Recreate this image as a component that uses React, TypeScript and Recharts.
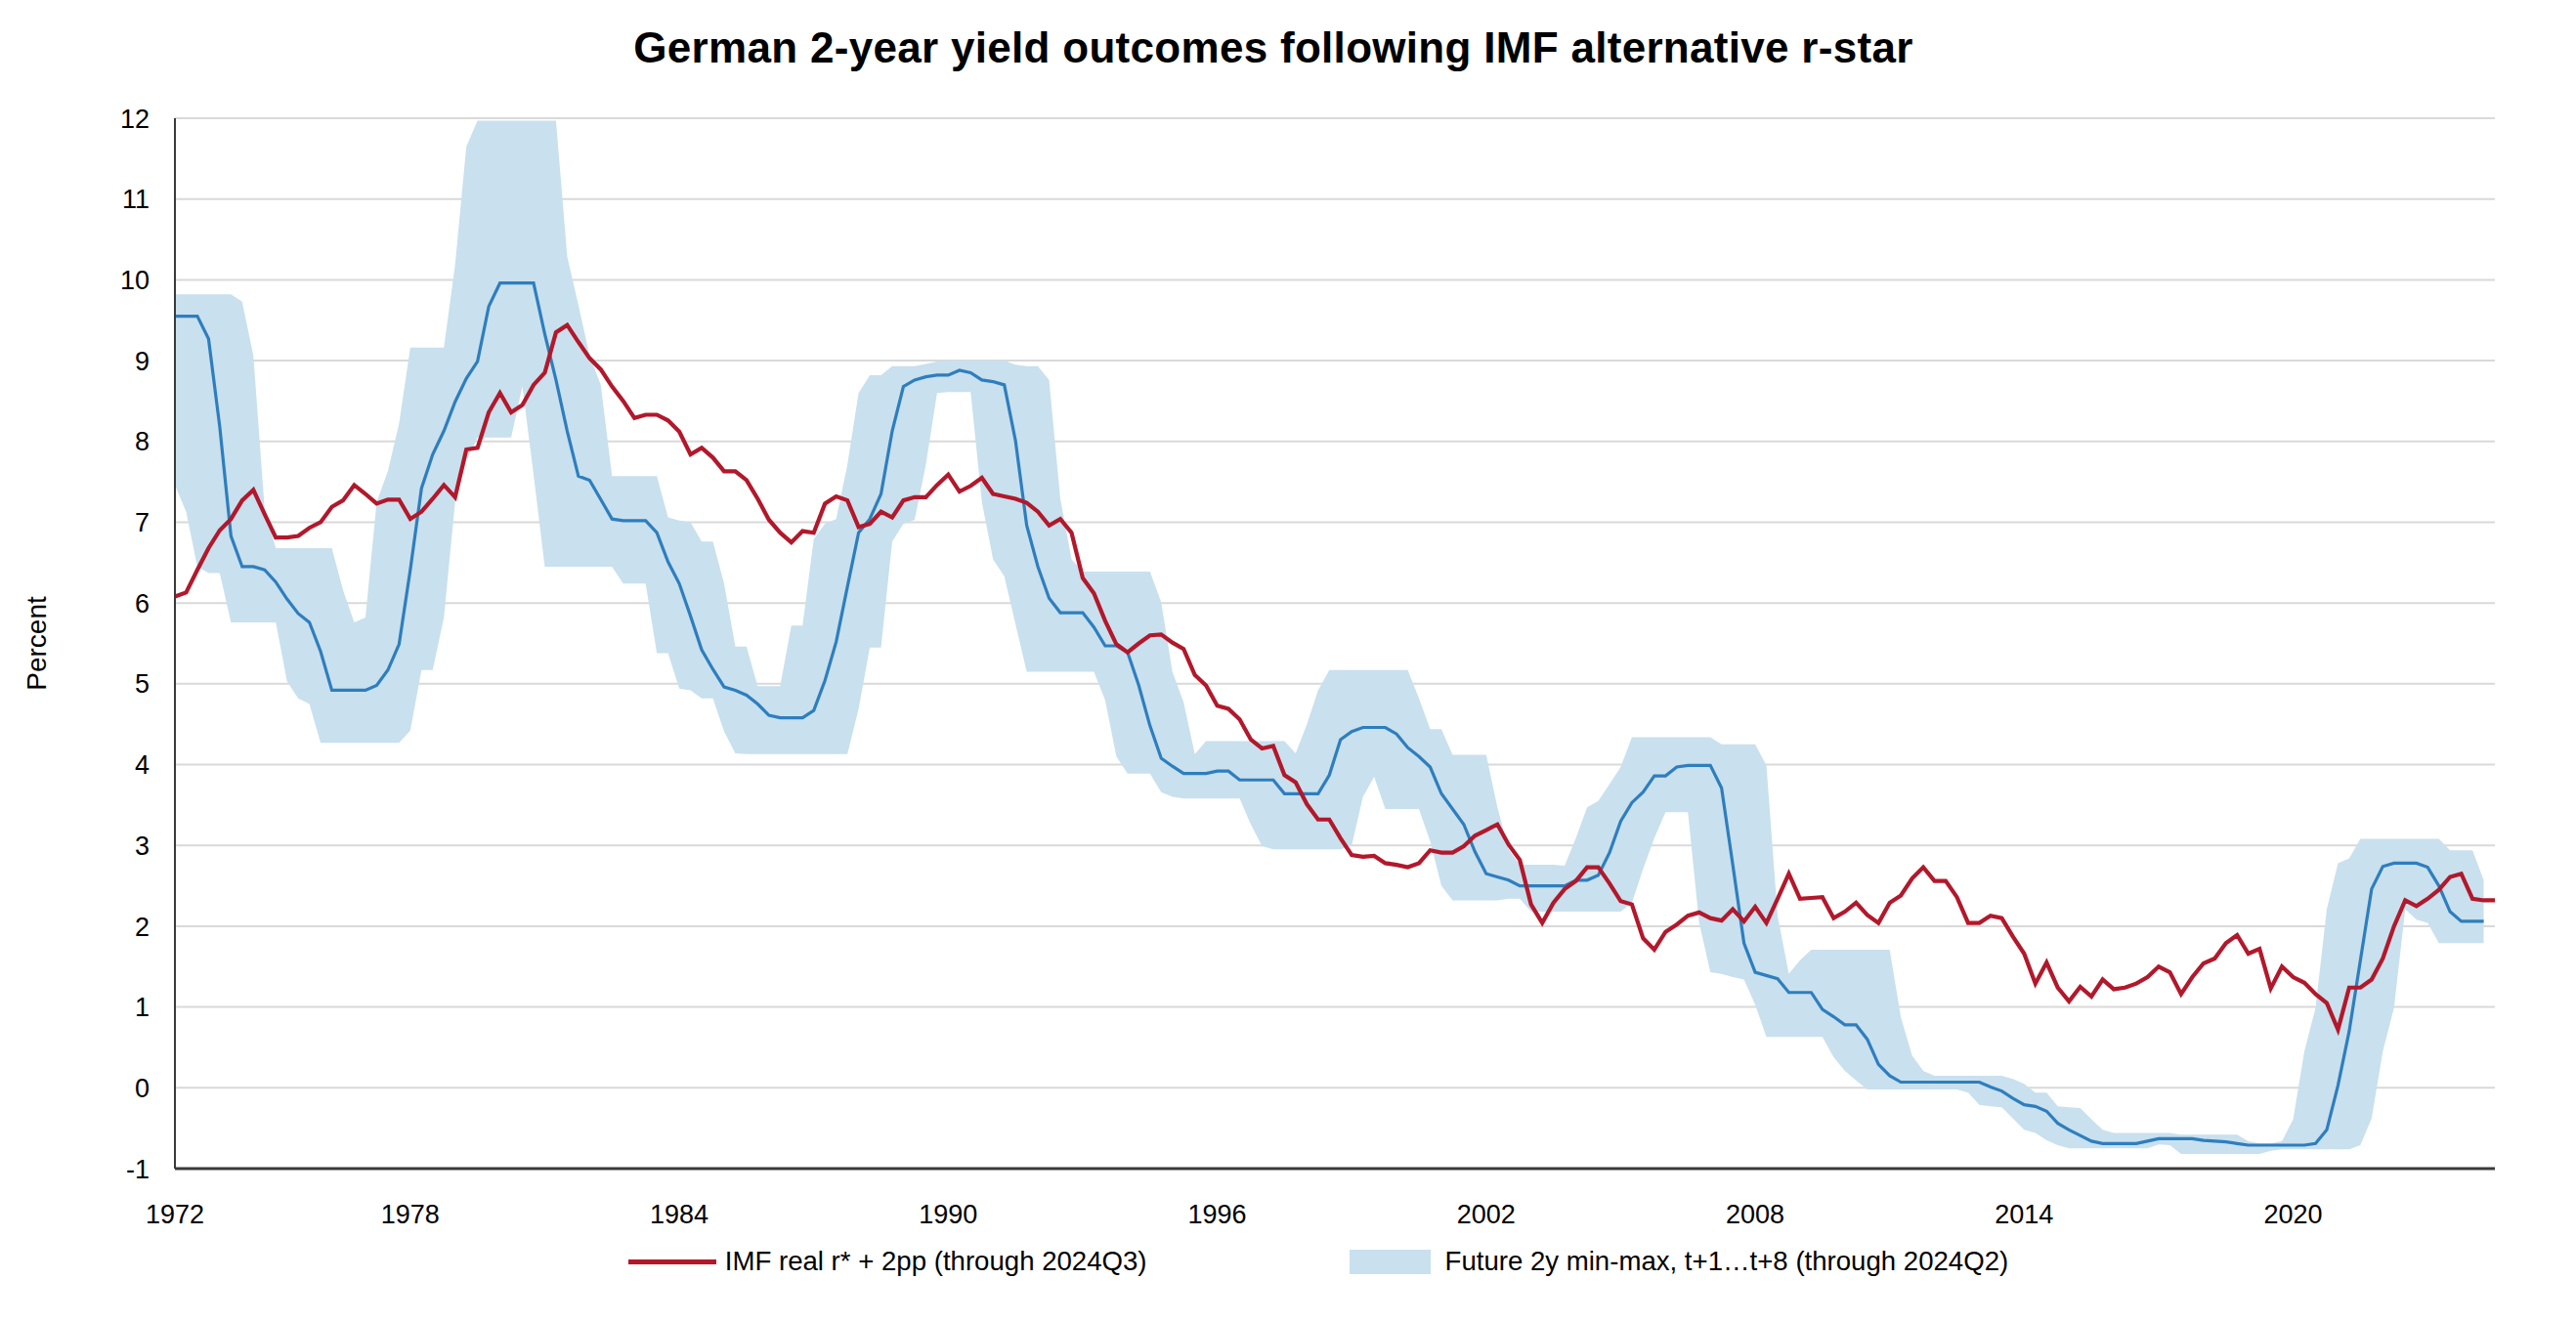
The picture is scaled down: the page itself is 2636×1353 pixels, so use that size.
import {
  ComposedChart,
  Area,
  Line,
  XAxis,
  YAxis,
  CartesianGrid,
  Legend,
} from "recharts";

// quarterly, first point 1972Q4
const START_YEAR = 1972;
const START_Q = 4;

// IMF real r* + 2pp, 1972Q4 .. 2024Q3
const rstarPlus2 = [
  6.08, 6.13, 6.41, 6.68, 6.9, 7.04, 7.27, 7.4, 7.1, 6.81,
  6.81, 6.83, 6.93, 7.0, 7.19, 7.27, 7.46, 7.35, 7.23, 7.28,
  7.28, 7.04, 7.13, 7.29, 7.46, 7.31, 7.9, 7.92, 8.36, 8.6,
  8.36, 8.45, 8.7, 8.85, 9.35, 9.44, 9.23, 9.03, 8.89, 8.68,
  8.5, 8.29, 8.33, 8.33, 8.26, 8.12, 7.84, 7.92, 7.8, 7.63,
  7.63, 7.52, 7.29, 7.03, 6.87, 6.75, 6.89, 6.87, 7.23, 7.32,
  7.27, 6.94, 6.98, 7.13, 7.06, 7.27, 7.31, 7.31, 7.46, 7.59,
  7.38, 7.45, 7.55, 7.35, 7.32, 7.29, 7.24, 7.13, 6.96, 7.04,
  6.87, 6.31, 6.12, 5.78, 5.49, 5.39, 5.5, 5.6, 5.61, 5.51,
  5.43, 5.11, 4.98, 4.73, 4.69, 4.56, 4.31, 4.2, 4.23, 3.87,
  3.78, 3.51, 3.32, 3.32, 3.09, 2.88, 2.86, 2.87, 2.78, 2.76,
  2.73, 2.78, 2.94, 2.91, 2.91, 2.99, 3.12, 3.19, 3.26, 3.01,
  2.82, 2.27, 2.04, 2.29, 2.46, 2.56, 2.73, 2.73, 2.53, 2.31,
  2.27, 1.85, 1.71, 1.93, 2.02, 2.13, 2.17, 2.1, 2.07, 2.21,
  2.06, 2.24, 2.04, 2.34, 2.65, 2.34, 2.35, 2.36, 2.1, 2.18,
  2.29, 2.14, 2.04, 2.29, 2.38, 2.59, 2.73, 2.56, 2.56, 2.36,
  2.04, 2.04, 2.13, 2.1, 1.87, 1.66, 1.29, 1.55, 1.24, 1.07,
  1.25, 1.13, 1.34, 1.22, 1.24, 1.29, 1.37, 1.5, 1.43, 1.16,
  1.37, 1.54, 1.6, 1.79, 1.89, 1.66, 1.72, 1.23, 1.5, 1.37,
  1.3, 1.16, 1.05, 0.72, 1.24, 1.24, 1.34, 1.6, 2.0, 2.32,
  2.25, 2.34, 2.45, 2.61, 2.65, 2.34, 2.32, 2.32,
];

// blue line inside the band, 1972Q4 .. 2024Q2
const midLine = [
  9.55, 9.55, 9.55, 9.27, 8.18, 6.83, 6.45, 6.45, 6.41, 6.26,
  6.05, 5.87, 5.76, 5.4, 4.92, 4.92, 4.92, 4.92, 4.98, 5.17,
  5.49, 6.41, 7.42, 7.84, 8.13, 8.49, 8.78, 8.99, 9.67, 9.96,
  9.96, 9.96, 9.96, 9.33, 8.76, 8.13, 7.57, 7.52, 7.28, 7.04,
  7.02, 7.02, 7.02, 6.87, 6.51, 6.24, 5.84, 5.42, 5.18, 4.96,
  4.92, 4.86, 4.75, 4.61, 4.58, 4.58, 4.58, 4.67, 5.04, 5.52,
  6.2, 6.87, 7.04, 7.35, 8.13, 8.68, 8.76, 8.8, 8.82, 8.82,
  8.88, 8.85, 8.76, 8.74, 8.7, 8.01, 6.96, 6.45, 6.06, 5.88,
  5.88, 5.88, 5.7, 5.47, 5.47, 5.39, 4.98, 4.48, 4.08, 3.98,
  3.89, 3.89, 3.89, 3.92, 3.92, 3.81, 3.81, 3.81, 3.81, 3.64,
  3.64, 3.64, 3.64, 3.87, 4.31, 4.41, 4.46, 4.46, 4.46, 4.38,
  4.21, 4.1, 3.97, 3.64, 3.45, 3.26, 2.92, 2.65, 2.61, 2.57,
  2.5, 2.5, 2.5, 2.5, 2.5, 2.57, 2.57, 2.63, 2.91, 3.3,
  3.53, 3.66, 3.86, 3.86, 3.97, 3.99, 3.99, 3.99, 3.71, 2.76,
  1.79, 1.43, 1.39, 1.35, 1.18, 1.18, 1.18, 0.97, 0.88, 0.78,
  0.78, 0.6, 0.29, 0.15, 0.07, 0.07, 0.07, 0.07, 0.07, 0.07,
  0.07, 0.07, 0.01, -0.04, -0.13, -0.21, -0.23, -0.29, -0.44, -0.52,
  -0.59, -0.66, -0.69, -0.69, -0.69, -0.69, -0.66, -0.63, -0.63, -0.63,
  -0.63, -0.65, -0.66, -0.67, -0.69, -0.71, -0.71, -0.71, -0.71, -0.71,
  -0.71, -0.69, -0.52, 0.03, 0.7, 1.58, 2.46, 2.74, 2.78, 2.78,
  2.78, 2.73, 2.5, 2.18, 2.06, 2.06, 2.06,
];

// future 2y min-max band, 1972Q4 .. 2024Q2
const bandLow = [
  7.46, 7.13, 6.45, 6.37, 6.37, 5.76, 5.76, 5.76, 5.76, 5.76,
  5.03, 4.82, 4.75, 4.27, 4.27, 4.27, 4.27, 4.27, 4.27, 4.27,
  4.27, 4.42, 5.17, 5.17, 5.82, 7.25, 7.76, 8.05, 8.05, 8.05,
  8.05, 8.68, 7.59, 6.45, 6.45, 6.45, 6.45, 6.45, 6.45, 6.45,
  6.24, 6.24, 6.24, 5.38, 5.38, 4.94, 4.92, 4.82, 4.82, 4.41,
  4.14, 4.13, 4.13, 4.13, 4.13, 4.13, 4.13, 4.13, 4.13, 4.13,
  4.13, 4.69, 5.45, 5.45, 6.76, 6.98, 7.03, 7.71, 8.6, 8.61,
  8.61, 8.61, 7.25, 6.54, 6.33, 5.74, 5.15, 5.15, 5.15, 5.15,
  5.15, 5.15, 5.15, 4.8, 4.1, 3.89, 3.89, 3.89, 3.66, 3.6,
  3.58, 3.58, 3.58, 3.58, 3.58, 3.58, 3.26, 2.99, 2.95, 2.95,
  2.95, 2.95, 2.95, 2.95, 2.95, 3.0, 3.6, 3.85, 3.45, 3.45,
  3.45, 3.45, 3.05, 2.5, 2.32, 2.32, 2.32, 2.32, 2.32, 2.34,
  2.34, 2.18, 2.18, 2.18, 2.18, 2.18, 2.18, 2.18, 2.18, 2.18,
  2.29, 2.71, 3.09, 3.41, 3.41, 3.41, 2.04, 1.43, 1.41, 1.37,
  1.34, 1.03, 0.63, 0.63, 0.63, 0.63, 0.63, 0.63, 0.38, 0.21,
  0.09, -0.02, -0.02, -0.02, -0.02, -0.02, -0.02, -0.02, -0.02, -0.02,
  -0.06, -0.21, -0.23, -0.24, -0.38, -0.52, -0.56, -0.65, -0.71, -0.75,
  -0.75, -0.75, -0.75, -0.75, -0.75, -0.75, -0.75, -0.7, -0.71, -0.82,
  -0.82, -0.82, -0.82, -0.82, -0.82, -0.82, -0.82, -0.78, -0.76, -0.76,
  -0.76, -0.76, -0.76, -0.76, -0.76, -0.71, -0.38, 0.45, 0.99, 2.21,
  2.08, 2.04, 1.79, 1.79, 1.79, 1.79, 1.79,
];

const bandHigh = [
  9.82, 9.82, 9.82, 9.82, 9.82, 9.82, 9.73, 9.06, 7.17, 6.68,
  6.68, 6.68, 6.68, 6.68, 6.68, 6.16, 5.76, 5.82, 7.25, 7.63,
  8.22, 9.16, 9.16, 9.16, 9.16, 10.19, 11.65, 11.97, 11.97, 11.97,
  11.97, 11.97, 11.97, 11.97, 11.97, 10.29, 9.69, 9.06, 8.7, 7.57,
  7.57, 7.57, 7.57, 7.57, 7.06, 7.02, 7.0, 6.76, 6.76, 6.24,
  5.46, 5.46, 4.97, 4.97, 4.97, 5.72, 5.72, 6.79, 6.98, 7.04,
  7.71, 8.6, 8.82, 8.82, 8.93, 8.93, 8.93, 8.96, 8.99, 9.0,
  9.0, 9.0, 9.0, 9.0, 9.0, 8.95, 8.93, 8.93, 8.76, 7.29,
  6.54, 6.39, 6.39, 6.39, 6.39, 6.39, 6.39, 6.39, 6.01, 5.15,
  4.77, 4.13, 4.29, 4.29, 4.29, 4.29, 4.29, 4.29, 4.29, 4.29,
  4.14, 4.5, 4.92, 5.17, 5.17, 5.17, 5.17, 5.17, 5.17, 5.17,
  5.17, 4.82, 4.44, 4.44, 4.12, 4.12, 4.12, 4.12, 3.47, 2.95,
  2.76, 2.76, 2.76, 2.76, 2.75, 3.09, 3.47, 3.55, 3.76, 3.97,
  4.34, 4.34, 4.34, 4.34, 4.34, 4.34, 4.34, 4.34, 4.25, 4.25,
  4.25, 4.25, 3.99, 2.13, 1.41, 1.58, 1.71, 1.71, 1.71, 1.71,
  1.71, 1.71, 1.71, 1.71, 0.87, 0.4, 0.21, 0.15, 0.15, 0.15,
  0.15, 0.15, 0.15, 0.15, 0.11, 0.05, -0.06, -0.06, -0.23, -0.24,
  -0.25, -0.39, -0.52, -0.56, -0.56, -0.56, -0.56, -0.56, -0.56, -0.58,
  -0.58, -0.58, -0.58, -0.58, -0.58, -0.66, -0.69, -0.69, -0.66, -0.39,
  0.45, 0.99, 2.21, 2.78, 2.84, 3.08, 3.08, 3.08, 3.08, 3.08,
  3.08, 3.08, 3.08, 2.94, 2.94, 2.94, 2.57,
];

const TICK_YEARS = ["1972", "1978", "1984", "1990", "1996", "2002", "2008", "2014", "2020"];
const Y_TICKS = [-1, 0, 1, 2, 3, 4, 5, 6, 7, 8, 9, 10, 11, 12];

const TITLE = "German 2-year yield outcomes following IMF alternative r-star";
const RED_LABEL = "IMF real r* + 2pp (through 2024Q3)";
const BAND_LABEL = "Future 2y min-max, t+1\u2026t+8 (through 2024Q2)";

const RED = "#B2182B";
const BLUE = "#2E7EBE";
const BAND = "#C9E0EE";
const FONT = '"Liberation Sans", Arial, sans-serif';

const quarters = rstarPlus2.map((_, i) => {
  const q0 = START_Q - 1 + i;
  return `${START_YEAR + Math.floor(q0 / 4)}Q${(q0 % 4) + 1}`;
});

const data = quarters.map((q, i) => ({
  idx: i,
  q,
  rstar: rstarPlus2[i],
  mid: i < midLine.length ? midLine[i] : null,
  band: i < bandLow.length ? [bandLow[i], bandHigh[i]] : null,
}));

const tickIdx = TICK_YEARS.map((y) => quarters.findIndex((q) => q.startsWith(y)));

const LegendBox = () => (
  <div
    style={{
      height: 40,
      display: "flex",
      alignItems: "center",
      justifyContent: "center",
      transform: "translateX(23px)",
      fontFamily: FONT,
      fontSize: 27.6,
      color: "#000",
    }}
  >
    <div style={{ width: 90, height: 5, background: RED, marginRight: 9 }} />
    <span>{RED_LABEL}</span>
    <div style={{ width: 83, height: 25, background: BAND, marginLeft: 207, marginRight: 15 }} />
    <span>{BAND_LABEL}</span>
  </div>
);

const PercentLabel = (props: any) => {
  const vb = props.viewBox || {};
  const cx = 47;
  const cy = vb.y + vb.height / 2;
  return (
    <text
      x={cx}
      y={cy}
      transform={`rotate(-90, ${cx}, ${cy})`}
      textAnchor="middle"
      fontFamily={FONT}
      fontSize={28}
      fill="#000"
    >
      Percent
    </text>
  );
};

export default function App() {
  return (
    <div
      style={{
        position: "absolute",
        left: 0,
        top: 0,
        width: 2636,
        height: 1353,
        background: "#fff",
        fontFamily: FONT,
      }}
    >
      <div
        style={{
          position: "absolute",
          left: 0,
          top: 26,
          width: 2606,
          height: 46,
          lineHeight: "46px",
          textAlign: "center",
          fontSize: 44,
          letterSpacing: 0.3,
          fontWeight: "bold",
          color: "#000",
        }}
      >
        {TITLE}
      </div>
      <ComposedChart
        width={2636}
        height={1353}
        data={data}
        margin={{ top: 121, right: 83, left: 99, bottom: 42 }}
      >
        <CartesianGrid vertical={false} stroke="#d9d9d9" strokeWidth={2} />
        <XAxis
          type="number"
          dataKey="idx"
          domain={[0, quarters.length - 1]}
          ticks={tickIdx}
          interval={0}
          tickFormatter={(v) => TICK_YEARS[tickIdx.indexOf(v)] ?? ""}
          tickLine={false}
          tickSize={0}
          tickMargin={37}
          height={75}
          axisLine={{ stroke: "#3a3a3a", strokeWidth: 3 }}
          tick={{ fill: "#000", fontSize: 27, fontFamily: FONT }}
        />
        <YAxis
          type="number"
          domain={[-1, 12]}
          ticks={Y_TICKS}
          interval={0}
          width={80}
          tickLine={false}
          tickSize={0}
          tickMargin={26}
          axisLine={{ stroke: "#3a3a3a", strokeWidth: 2 }}
          tick={{ fill: "#000", fontSize: 27, fontFamily: FONT }}
          label={<PercentLabel />}
        />
        <Area
          dataKey="band"
          stroke="none"
          fill={BAND}
          fillOpacity={1}
          isAnimationActive={false}
          activeDot={false}
        />
        <Line
          dataKey="mid"
          stroke={BLUE}
          strokeWidth={3.2}
          dot={false}
          activeDot={false}
          isAnimationActive={false}
        />
        <Line
          dataKey="rstar"
          stroke={RED}
          strokeWidth={4.2}
          dot={false}
          activeDot={false}
          isAnimationActive={false}
        />
        <Legend verticalAlign="bottom" height={40} content={() => <LegendBox />} />
      </ComposedChart>
    </div>
  );
}
